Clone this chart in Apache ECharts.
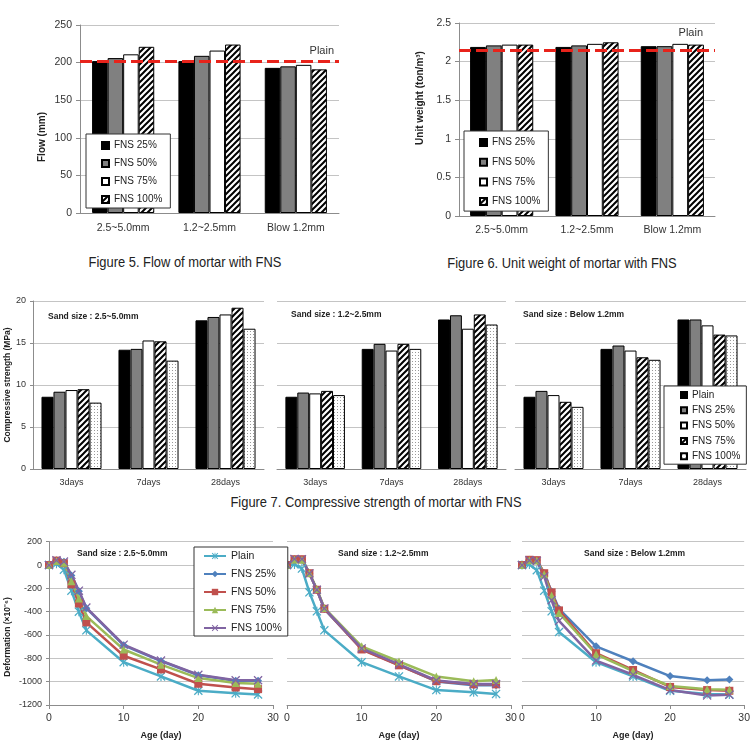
<!DOCTYPE html>
<html>
<head>
<meta charset="utf-8">
<script src="https://cdn.jsdelivr.net/npm/echarts@6/dist/echarts.min.js"></script>
<style>
body { margin: 0; background: #fff; width: 753px; height: 745px; position: relative; overflow: hidden; }
.chart { position: absolute; }
.cap { position: absolute; font-family: 'Liberation Sans', Arial, sans-serif; font-size: 15px; color: #222; white-space: nowrap; transform: translateX(-50%) scaleX(0.86); line-height: 17px; }
</style>
</head>
<body>
<div id="fig5" class="chart" style="left:0;top:0;width:380px;height:250px"></div>
<div id="fig6" class="chart" style="left:380px;top:0;width:373px;height:250px"></div>
<div class="cap" style="left:185px;top:253px">Figure 5. Flow of mortar with FNS</div>
<div class="cap" style="left:562px;top:254px">Figure 6. Unit weight of mortar with FNS</div>
<div id="fig7" class="chart" style="left:0;top:285px;width:753px;height:208px"></div>
<div class="cap" style="left:376px;top:493px">Figure 7. Compressive strength of mortar with FNS</div>
<div id="fig8" class="chart" style="left:0;top:525px;width:753px;height:220px"></div>
<script>
// ---- Figure 5 / 6 data ----
const sizeCats = ['2.5~5.0mm', '1.2~2.5mm', 'Blow 1.2mm'];
const fnsNames = ['FNS 25%', 'FNS 50%', 'FNS 75%', 'FNS 100%'];
const flow25 = [202, 202, 193];
const flow50 = [206, 209, 195];
const flow75 = [211, 216, 197];
const flow100 = [221, 224, 191];
const flowPlain = 202;
const uw25 = [2.19, 2.19, 2.20];
const uw50 = [2.21, 2.21, 2.20];
const uw75 = [2.22, 2.23, 2.23];
const uw100 = [2.22, 2.25, 2.22];
const uwPlain = 2.15;

// ---- Figure 7 data (one row per sand size panel) ----
const strCats = ['3days', '7days', '28days'];
const strNames = ['Plain', 'FNS 25%', 'FNS 50%', 'FNS 75%', 'FNS 100%'];
const sandLabels = ['Sand size : 2.5~5.0mm', 'Sand size : 1.2~2.5mm', 'Sand size : Below 1.2mm'];
const strPlain = [[8.6, 14.2, 17.7], [8.6, 14.3, 17.8], [8.6, 14.3, 17.8]];
const str25 = [[9.2, 14.3, 18.1], [9.1, 14.9, 18.3], [9.3, 14.7, 17.8]];
const str50 = [[9.4, 15.3, 18.4], [9.0, 14.1, 16.7], [8.8, 14.1, 17.1]];
const str75 = [[9.5, 15.2, 19.2], [9.3, 14.9, 18.4], [8.0, 13.3, 16.0]];
const str100 = [[7.9, 12.9, 16.7], [8.8, 14.3, 17.2], [7.4, 13.0, 15.9]];

// ---- Figure 8 data ----
const ageDays = [0, 1, 2, 3, 4, 5, 10, 15, 20, 25, 28];
const defPlain = [
  [0, 10, -40, -220, -400, -560, -833, -955, -1078, -1100, -1110],
  [0, 5, -30, -234, -397, -560, -833, -955, -1072, -1091, -1105],
  [0, 5, -44, -220, -397, -574, -833, -955, -1078, -1105, -1110]];
const def25 = [
  [0, 40, 28, -90, -225, -370, -688, -823, -945, -992, -993],
  [0, 50, 48, -72, -215, -378, -720, -857, -998, -1030, -1030],
  [0, 45, 40, -70, -228, -375, -697, -825, -952, -988, -982]];
const def50 = [
  [0, 38, 16, -166, -330, -492, -778, -895, -1018, -1050, -1064],
  [0, 50, 50, -70, -212, -375, -724, -860, -996, -1023, -1023],
  [0, 45, 42, -70, -234, -389, -756, -900, -1045, -1072, -1078]];
const def75 = [
  [0, 35, 20, -139, -288, -438, -724, -854, -969, -1012, -1018],
  [0, 48, 45, -68, -205, -368, -697, -827, -955, -996, -985],
  [0, 42, 38, -80, -261, -411, -765, -909, -1037, -1064, -1069]];
const def100 = [
  [0, 40, 30, -84, -220, -365, -683, -819, -941, -988, -988],
  [0, 52, 50, -72, -212, -372, -715, -852, -990, -1020, -1020],
  [0, 40, 35, -98, -302, -479, -819, -941, -1072, -1118, -1113]];

const fontMain = "'Liberation Sans', Arial, sans-serif";
const axisGrey = '#8c8c8c';
const gridGrey = '#c4c4c4';

function hatchPattern() {
  const c = document.createElement('canvas');
  c.width = 6; c.height = 6;
  const g = c.getContext('2d');
  g.fillStyle = '#fff'; g.fillRect(0, 0, 6, 6);
  g.strokeStyle = '#000'; g.lineWidth = 2;
  g.beginPath();
  g.moveTo(-1, 7); g.lineTo(7, -1);
  g.moveTo(-1, 1); g.lineTo(1, -1);
  g.moveTo(5, 7); g.lineTo(7, 5);
  g.stroke();
  return { image: c, repeat: 'repeat' };
}
function dotPattern() {
  const c = document.createElement('canvas');
  c.width = 3; c.height = 3;
  const g = c.getContext('2d');
  g.fillStyle = '#fff'; g.fillRect(0, 0, 3, 3);
  g.fillStyle = '#999'; g.fillRect(1, 1, 1, 1);
  return { image: c, repeat: 'repeat' };
}

function plainLine(value, distance) {
  return {
    silent: true, symbol: 'none',
    lineStyle: { color: '#e8231b', width: 3, type: [12, 5] },
    label: { show: true, position: 'insideEndTop', formatter: 'Plain', color: '#333', fontSize: 11, fontFamily: fontMain, distance: distance },
    data: [{ yAxis: value }]
  };
}

function barFig(el, cfg) {
  const chart = echarts.init(document.getElementById(el));
  const fills = ['#000', '#808080', '#fff', hatchPattern()];
  const series = cfg.values.map(function (vals, i) {
    const s = {
      name: fnsNames[i], type: 'bar', data: vals,
      barGap: '0%', barCategoryGap: cfg.gap,
      itemStyle: { color: fills[i], borderColor: '#000', borderWidth: 1 }
    };
    if (i === 0) s.markLine = plainLine(cfg.plain, cfg.labelDist);
    return s;
  });
  chart.setOption({
    animation: false,
    textStyle: { fontFamily: fontMain },
    grid: cfg.grid,
    legend: {
      orient: 'vertical', left: cfg.legend.left, top: cfg.legend.top,
      data: fnsNames, icon: 'rect', itemWidth: 7, itemHeight: 7, itemGap: cfg.legend.gap,
      padding: cfg.legend.padding,
      backgroundColor: '#fff', borderColor: '#333', borderWidth: 1,
      textStyle: { fontSize: 10, color: '#222', lineHeight: 13 }
    },
    xAxis: {
      type: 'category', data: sizeCats,
      axisLine: { lineStyle: { color: axisGrey } },
      axisTick: { length: 5, lineStyle: { color: axisGrey } },
      axisLabel: { fontSize: 10.5, color: '#333', margin: cfg.xMargin }
    },
    yAxis: {
      type: 'value', min: 0, max: cfg.max, interval: cfg.interval,
      axisLine: { show: true, lineStyle: { color: axisGrey } },
      axisTick: { show: true, length: 4, lineStyle: { color: axisGrey } },
      axisLabel: { fontSize: 10.5, color: '#333', margin: 8 },
      splitLine: { lineStyle: { color: gridGrey } }
    },
    graphic: [{
      type: 'text', x: cfg.yName.x, y: cfg.yName.y, rotation: Math.PI / 2,
      style: { text: cfg.yName.text, font: 'bold 10px ' + fontMain, fill: '#222', align: 'center', verticalAlign: 'middle' }
    }],
    series: series
  });
}

barFig('fig5', {
  values: [flow25, flow50, flow75, flow100], plain: flowPlain, labelDist: 5,
  grid: { left: 80, top: 25, width: 259, height: 188 },
  max: 250, interval: 50, gap: '28%', xMargin: 10,
  legend: { left: 86, top: 134, gap: 5, padding: [5, 8, 2, 15] },
  yName: { x: 42, y: 137, text: 'Flow (mm)' }
});
barFig('fig6', {
  values: [uw25, uw50, uw75, uw100], plain: uwPlain, labelDist: 12,
  grid: { left: 79, top: 23, width: 256, height: 193 },
  max: 2.5, interval: 0.5, gap: '26%', xMargin: 9,
  legend: { left: 84, top: 131, gap: 6.7, padding: [5, 8, 3, 15] },
  yName: { x: 40, y: 98, text: 'Unit weight (ton/m³)' }
});

// ---- Figure 7 ----
(function () {
  const chart = echarts.init(document.getElementById('fig7'));
  const lefts = [33, 277, 515];
  const widths = [231, 229, 231];
  const fills = ['#000', '#808080', '#fff', hatchPattern(), dotPattern()];
  const sets = [strPlain, str25, str50, str75, str100];
  const grids = [], xAxes = [], yAxes = [], series = [], graphics = [];
  const labelPos = [[48, 32], [291, 30], [523, 30]];
  for (let p = 0; p < 3; p++) {
    grids.push({ left: lefts[p], top: 16, width: widths[p], height: 168 });
    xAxes.push({
      type: 'category', gridIndex: p, data: strCats,
      axisLine: { lineStyle: { color: axisGrey } },
      axisTick: { length: 4, lineStyle: { color: axisGrey } },
      axisLabel: { fontSize: 9, color: '#333', margin: 9 }
    });
    yAxes.push({
      type: 'value', gridIndex: p, min: 0, max: 20, interval: 5,
      axisLine: { show: p === 0, lineStyle: { color: axisGrey } },
      axisTick: { show: p === 0, length: 3, lineStyle: { color: axisGrey } },
      axisLabel: { show: p === 0, fontSize: 9, color: '#333', margin: 7 },
      splitLine: { lineStyle: { color: gridGrey } }
    });
    for (let i = 0; i < 5; i++) {
      series.push({
        name: strNames[i], type: 'bar', xAxisIndex: p, yAxisIndex: p, data: sets[i][p],
        barGap: '0%', barCategoryGap: '22%',
        itemStyle: { color: fills[i], borderColor: '#000', borderWidth: 1 }
      });
    }
    graphics.push({
      type: 'text', x: labelPos[p][0], y: labelPos[p][1],
      style: { text: sandLabels[p], font: 'bold 8.5px ' + fontMain, fill: '#222', verticalAlign: 'middle' }
    });
  }
  graphics.push({
    type: 'text', x: 8, y: 100, rotation: Math.PI / 2,
    style: { text: 'Compressive strength (MPa)', font: 'bold 8.5px ' + fontMain, fill: '#222', align: 'center', verticalAlign: 'middle' }
  });
  chart.setOption({
    animation: false,
    textStyle: { fontFamily: fontMain },
    grid: grids, xAxis: xAxes, yAxis: yAxes,
    legend: {
      orient: 'vertical', left: 664, top: 101, data: strNames,
      icon: 'rect', itemWidth: 6, itemHeight: 6, itemGap: 3.3,
      padding: [3, 6, 2, 16],
      backgroundColor: '#fff', borderColor: '#333', borderWidth: 1,
      textStyle: { fontSize: 10, color: '#222', lineHeight: 12 }
    },
    graphic: graphics,
    series: series
  });
})();

// ---- Figure 8 ----
(function () {
  const chart = echarts.init(document.getElementById('fig8'));
  const xMark = 'path://M0,1L1,0L5,4L9,0L10,1L6,5L10,9L9,10L5,6L1,10L0,9L4,5Z';
  const starMark = 'path://M0,1L1,0L5,4L9,0L10,1L6,5L10,9L9,10L5,6L1,10L0,9L4,5ZM4.4,0L5.6,0L5.6,10L4.4,10Z';
  const lineNames = ['Plain', 'FNS 25%', 'FNS 50%', 'FNS 75%', 'FNS 100%'];
  const colors = ['#4bacc6', '#4f81bd', '#c0504d', '#9bbb59', '#8064a2'];
  const symbols = [starMark, 'diamond', 'rect', 'triangle', xMark];
  const sizes = [9, 8, 8, 8, 9];
  const sets = [defPlain, def25, def50, def75, def100];
  const lefts = [49, 287, 522];
  const grids = [], xAxes = [], yAxes = [], series = [], graphics = [];
  const labelPos = [[77, 29], [338, 29], [584, 29]];
  for (let p = 0; p < 3; p++) {
    grids.push({ left: lefts[p], top: 16.7, width: 224, height: 172.3 });
    xAxes.push({
      type: 'value', gridIndex: p, min: 0, max: 30, interval: 10,
      name: 'Age (day)', nameLocation: 'middle', nameGap: 26,
      nameTextStyle: { fontSize: 9, fontWeight: 'bold', color: '#222' },
      axisLine: { onZero: false, lineStyle: { color: axisGrey } },
      axisTick: { show: true, length: 4, lineStyle: { color: axisGrey } },
      axisLabel: { fontSize: 10.5, color: '#333', margin: 8 },
      splitLine: { show: false }
    });
    yAxes.push({
      type: 'value', gridIndex: p, min: -1200, max: 200, interval: 200,
      axisLine: { show: p === 0, onZero: false, lineStyle: { color: axisGrey } },
      axisTick: { show: p === 0, length: 3, lineStyle: { color: axisGrey } },
      axisLabel: { show: p === 0, fontSize: 9, color: '#333', margin: 7, formatter: function (v) { return String(v); } },
      splitLine: { lineStyle: { color: gridGrey } }
    });
    for (let i = 0; i < 5; i++) {
      series.push({
        name: lineNames[i], type: 'line', xAxisIndex: p, yAxisIndex: p,
        data: ageDays.map(function (d, k) { return [d, sets[i][p][k]]; }),
        symbol: symbols[i], symbolSize: sizes[i],
        lineStyle: { color: colors[i], width: 2.5 },
        itemStyle: { color: colors[i] }
      });
    }
    graphics.push({
      type: 'text', x: labelPos[p][0], y: labelPos[p][1],
      style: { text: sandLabels[p], font: 'bold 8.5px ' + fontMain, fill: '#222', verticalAlign: 'middle' }
    });
  }
  graphics.push({
    type: 'text', x: 8, y: 112, rotation: Math.PI / 2,
    style: { text: 'Deformation (×10⁻⁶)', font: 'bold 8.5px ' + fontMain, fill: '#222', align: 'center', verticalAlign: 'middle' }
  });
  chart.setOption({
    animation: false,
    textStyle: { fontFamily: fontMain },
    grid: grids, xAxis: xAxes, yAxis: yAxes,
    legend: {
      orient: 'vertical', left: 194, top: 22, data: lineNames,
      itemWidth: 22, itemHeight: 8, itemGap: 6,
      padding: [3, 6, 2, 9],
      backgroundColor: '#fff', borderColor: '#333', borderWidth: 1,
      textStyle: { fontSize: 10.5, color: '#222', lineHeight: 12 }
    },
    graphic: graphics,
    series: series
  });
})();
</script>
</body>
</html>
